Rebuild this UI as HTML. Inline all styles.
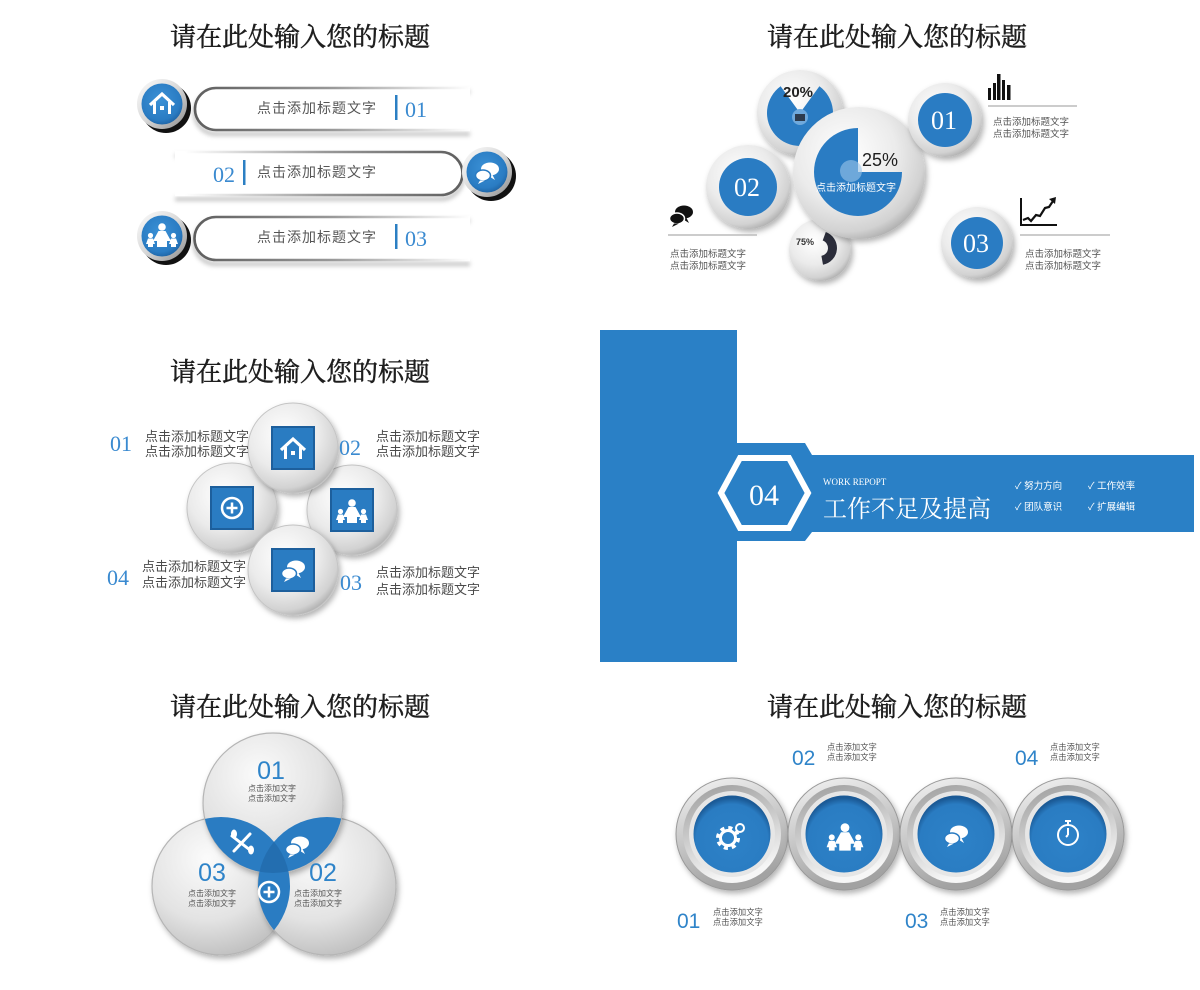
<!DOCTYPE html>
<html><head><meta charset="utf-8"><style>
html,body{margin:0;padding:0;background:#fff;}
svg{display:block;}
.t{font-family:"Liberation Serif","Noto Serif CJK SC",serif;font-size:26px;fill:#1e1e1e;stroke:#1e1e1e;stroke-width:0.5px;font-weight:normal;}
.s{font-family:"Liberation Sans","Noto Sans CJK SC",sans-serif;}
.sf{font-family:"Liberation Serif","Noto Serif CJK SC",serif;}
</style></head><body>
<svg width="1200" height="990" viewBox="0 0 1200 990" xmlns="http://www.w3.org/2000/svg">
<defs>
<radialGradient id="blueR" cx="0.45" cy="0.4" r="0.65">
 <stop offset="0" stop-color="#3b91d6"/><stop offset="0.75" stop-color="#2a7cc3"/><stop offset="1" stop-color="#1c5f9f"/>
</radialGradient>
<radialGradient id="blueI" cx="0.5" cy="0.58" r="0.55">
 <stop offset="0" stop-color="#2d82c8"/><stop offset="0.85" stop-color="#2a7cc2"/><stop offset="1" stop-color="#1b5a96"/>
</radialGradient>
<linearGradient id="silver" x1="0" y1="0" x2="1" y2="1">
 <stop offset="0" stop-color="#fdfdfd"/><stop offset="0.5" stop-color="#d8d8d8"/><stop offset="1" stop-color="#8c8c8c"/>
</linearGradient>
<radialGradient id="disc" cx="0.4" cy="0.35" r="0.7">
 <stop offset="0" stop-color="#ffffff"/><stop offset="0.55" stop-color="#ebebeb"/><stop offset="0.85" stop-color="#d2d2d2"/><stop offset="1" stop-color="#a8a8a8"/>
</radialGradient>
<radialGradient id="vdisc" cx="0.4" cy="0.3" r="0.75">
 <stop offset="0" stop-color="#fbfbfb"/><stop offset="0.6" stop-color="#e3e3e3"/><stop offset="1" stop-color="#bdbdbd"/>
</radialGradient>
<linearGradient id="ringA" x1="0" y1="0" x2="0.3" y2="1">
 <stop offset="0" stop-color="#f4f4f4"/><stop offset="1" stop-color="#a2a2a2"/>
</linearGradient>
<linearGradient id="ringB" x1="0" y1="0" x2="0.3" y2="1">
 <stop offset="0" stop-color="#9c9c9c"/><stop offset="1" stop-color="#f6f6f6"/>
</linearGradient>
<linearGradient id="fadeR" gradientUnits="userSpaceOnUse" x1="195" y1="0" x2="470" y2="0">
 <stop offset="0" stop-color="#5e5e5e"/><stop offset="0.5" stop-color="#999"/><stop offset="0.85" stop-color="#e2e2e2"/><stop offset="1" stop-color="#ffffff"/>
</linearGradient>
<linearGradient id="fadeL" gradientUnits="userSpaceOnUse" x1="463" y1="0" x2="185" y2="0">
 <stop offset="0" stop-color="#5e5e5e"/><stop offset="0.5" stop-color="#999"/><stop offset="0.85" stop-color="#e2e2e2"/><stop offset="1" stop-color="#ffffff"/>
</linearGradient>
<filter id="sh" x="-30%" y="-30%" width="160%" height="160%"><feDropShadow dx="2" dy="3" stdDeviation="3" flood-color="#000" flood-opacity="0.3"/></filter>
<filter id="bl" x="-10%" y="-100%" width="120%" height="300%"><feGaussianBlur stdDeviation="2.2"/></filter>
<clipPath id="cA"><circle cx="273" cy="803" r="70"/></clipPath>
<clipPath id="cB"><circle cx="327" cy="886" r="69"/></clipPath>
<clipPath id="cC"><circle cx="221" cy="886" r="69"/></clipPath>

<g id="house"><path d="M-12,1 L0,-10 L12,1" fill="none" stroke="#fff" stroke-width="3.2"/><path d="M-7.5,-2 V10 M7.5,-2 V10" stroke="#fff" stroke-width="3"/><rect x="-2" y="2" width="4" height="4" fill="#fff"/></g>
<g id="chat"><ellipse cx="3" cy="-3" rx="9" ry="6.5" fill="#fff"/><path d="M5,2 L8,8 L0,3z" fill="#fff"/><ellipse cx="-4" cy="3.5" rx="7.5" ry="5.5" fill="#fff" stroke="#2a7bc2" stroke-width="1.5"/><path d="M-7,8.5 L-9,12 L-2,8.5z" fill="#fff"/></g>
<g id="chatK"><ellipse cx="3" cy="-3" rx="9" ry="6.5" fill="#111"/><path d="M5,2 L8,8 L0,3z" fill="#111"/><ellipse cx="-4" cy="3.5" rx="7.5" ry="5.5" fill="#111" stroke="#fff" stroke-width="1.5"/><path d="M-7,8.5 L-9,12 L-2,8.5z" fill="#111"/></g>
<g id="family" fill="#fff"><circle cx="0" cy="-9" r="3.8"/><path d="M-3.5,-5 H3.5 L9,5 H5 V11 H-5 V5 H-9z"/><circle cx="-11.5" cy="-0.5" r="2.6"/><path d="M-14,2.5 H-9 L-7,8 H-9 V11 H-14 V8 H-16z"/><circle cx="11.5" cy="-0.5" r="2.6"/><path d="M9,2.5 H14 L16,8 H14 V11 H9 V8 H7z"/></g>
<g id="plusc" fill="none" stroke="#fff" stroke-width="2.5"><circle r="10"/><path d="M-5.5,0 H5.5 M0,-5.5 V5.5"/></g>
<g id="gear" fill="none" stroke="#fff"><circle r="10" stroke-width="4" stroke-dasharray="4 3.85"/><circle r="7.5" stroke-width="3"/><circle cx="12" cy="-10" r="4" stroke-width="2"/></g>
<g id="watch" fill="none" stroke="#fff" stroke-width="2"><circle cy="2" r="10"/><path d="M0,-8 V-11 M-3,-12 H3 M0,2 V-5 M0,2 L-2,4"/></g>
</defs>

<!-- TITLES -->
<text class="t" x="300" y="46" text-anchor="middle">请在此处输入您的标题</text>
<text class="t" x="897" y="46" text-anchor="middle">请在此处输入您的标题</text>
<text class="t" x="300" y="381" text-anchor="middle">请在此处输入您的标题</text>
<text class="t" x="300" y="716" text-anchor="middle">请在此处输入您的标题</text>
<text class="t" x="897" y="716" text-anchor="middle">请在此处输入您的标题</text>

<!-- TOP LEFT -->
<path d="M470,92 H216 A21,21 0 0 0 216,134 H470" fill="none" stroke="#aaa" stroke-width="4" filter="url(#bl)" opacity="0.7"/>
<path d="M470,88 H216 A21,21 0 0 0 216,130 H470" fill="#fff" stroke="url(#fadeR)" stroke-width="2.6"/>
<text class="s" x="257" y="113" font-size="14" fill="#555" letter-spacing="1">点击添加标题文字</text>
<rect x="395" y="95" width="2.5" height="25" fill="#2b7fc3"/>
<text class="sf" x="405" y="117" font-size="22" fill="#3a8ad0">01</text>
<circle cx="166" cy="108" r="25" fill="#111"/>
<circle cx="162" cy="104" r="25" fill="url(#silver)"/>
<circle cx="162" cy="104" r="20.5" fill="url(#blueR)"/>
<use href="#house" x="162" y="104"/>

<path d="M175,156 H441 A21.5,21.5 0 0 1 441,199 H175" fill="none" stroke="#aaa" stroke-width="4" filter="url(#bl)" opacity="0.7"/>
<path d="M175,152 H441 A21.5,21.5 0 0 1 441,195 H175" fill="#fff" stroke="url(#fadeL)" stroke-width="2.6"/>
<text class="sf" x="213" y="182" font-size="22" fill="#3a8ad0">02</text>
<rect x="243" y="160" width="2.5" height="25" fill="#2b7fc3"/>
<text class="s" x="257" y="177" font-size="14" fill="#555" letter-spacing="1">点击添加标题文字</text>
<circle cx="491" cy="176" r="25" fill="#111"/>
<circle cx="487" cy="172" r="25" fill="url(#silver)"/>
<circle cx="487" cy="172" r="20.5" fill="url(#blueR)"/>
<use href="#chat" x="487" y="172"/>

<path d="M470,221 H216 A21.5,21.5 0 0 0 216,264 H470" fill="none" stroke="#aaa" stroke-width="4" filter="url(#bl)" opacity="0.7"/>
<path d="M470,217 H216 A21.5,21.5 0 0 0 216,260 H470" fill="#fff" stroke="url(#fadeR)" stroke-width="2.6"/>
<text class="s" x="257" y="242" font-size="14" fill="#555" letter-spacing="1">点击添加标题文字</text>
<rect x="395" y="224" width="2.5" height="25" fill="#2b7fc3"/>
<text class="sf" x="405" y="246" font-size="22" fill="#3a8ad0">03</text>
<circle cx="166" cy="240" r="25" fill="#111"/>
<circle cx="162" cy="236" r="25" fill="url(#silver)"/>
<circle cx="162" cy="236" r="20.5" fill="url(#blueR)"/>
<use href="#family" x="162" y="236"/>

<!-- TOP RIGHT -->
<circle cx="800" cy="113" r="43" fill="url(#disc)" filter="url(#sh)"/>
<path d="M800,113 L819.4,86.3 A33,33 0 1 1 780.6,86.3 Z" fill="#2a7cc3"/>
<circle cx="800" cy="117" r="8" fill="#6fa9dc"/>
<rect x="795" y="114" width="10" height="7" fill="#2d3b4d"/>
<text class="s" x="798" y="97" font-size="15" font-weight="bold" fill="#222" text-anchor="middle">20%</text>
<circle cx="748" cy="187" r="42" fill="url(#disc)" filter="url(#sh)"/>
<circle cx="748" cy="187" r="29" fill="#2a7cc3"/>
<text class="sf" x="747" y="196" font-size="26" fill="#fff" text-anchor="middle">02</text>
<circle cx="820" cy="250" r="31" fill="url(#disc)" filter="url(#sh)"/>
<text class="s" x="805" y="245" font-size="9" font-weight="bold" fill="#333" text-anchor="middle">75%</text>
<path d="M825.8,232 A17,17 0 0 1 823,264.7 L821.4,255.9 A8,8 0 0 0 822.7,240.5 Z" fill="#2b2d3a"/>
<circle cx="859" cy="173" r="66" fill="url(#disc)" filter="url(#sh)"/>
<path d="M858,172 L902,172 A44,44 0 1 1 858,128 Z" fill="#2a7cc3"/>
<circle cx="851" cy="171" r="11" fill="#9cc6ea" opacity="0.6"/>
<text class="s" x="880" y="166" font-size="18" fill="#1e1e1e" text-anchor="middle">25%</text>
<text class="s" x="856" y="191" font-size="10" fill="#fff" text-anchor="middle">点击添加标题文字</text>
<circle cx="945" cy="120" r="37" fill="url(#disc)" filter="url(#sh)"/>
<circle cx="945" cy="120" r="27" fill="#2a7cc3"/>
<text class="sf" x="944" y="129" font-size="26" fill="#fff" text-anchor="middle">01</text>
<circle cx="977" cy="243" r="36" fill="url(#disc)" filter="url(#sh)"/>
<circle cx="977" cy="243" r="26" fill="#2a7cc3"/>
<text class="sf" x="976" y="252" font-size="26" fill="#fff" text-anchor="middle">03</text>
<g fill="#111">
<rect x="988" y="88" width="3" height="12"/><rect x="993" y="83" width="3" height="17"/><rect x="997" y="74" width="3.5" height="26"/><rect x="1002" y="80" width="3" height="20"/><rect x="1007" y="85" width="3.5" height="15"/>
</g>
<line x1="988" y1="106" x2="1077" y2="106" stroke="#bcbcbc" stroke-width="1.5"/>
<text class="s" x="993" y="125" font-size="9.5" fill="#555">点击添加标题文字</text>
<text class="s" x="993" y="137" font-size="9.5" fill="#555">点击添加标题文字</text>
<path d="M1021,198 V225 H1057" fill="none" stroke="#111" stroke-width="2"/>
<path d="M1023,220 L1028,218 L1031,221 L1036,215 L1040,216 L1045,208 L1049,207 L1053,201" fill="none" stroke="#111" stroke-width="2.2"/>
<path d="M1049,199 L1056,197 L1055,204 Z" fill="#111"/>
<line x1="1020" y1="235" x2="1110" y2="235" stroke="#bcbcbc" stroke-width="1.5"/>
<text class="s" x="1025" y="257" font-size="9.5" fill="#555">点击添加标题文字</text>
<text class="s" x="1025" y="269" font-size="9.5" fill="#555">点击添加标题文字</text>
<use href="#chatK" x="681" y="215"/>
<line x1="668" y1="235" x2="757" y2="235" stroke="#bcbcbc" stroke-width="1.5"/>
<text class="s" x="670" y="257" font-size="9.5" fill="#555">点击添加标题文字</text>
<text class="s" x="670" y="269" font-size="9.5" fill="#555">点击添加标题文字</text>

<!-- MIDDLE LEFT -->
<g>
<circle cx="232" cy="508" r="45" fill="url(#disc)" filter="url(#sh)" stroke="#c4c4c4" stroke-width="1"/>
<rect x="211" y="487" width="42" height="42" fill="#2a7cc2" stroke="#1d5f9c" stroke-width="2"/>
<use href="#plusc" x="232" y="508"/>
<circle cx="352" cy="510" r="45" fill="url(#disc)" filter="url(#sh)" stroke="#c4c4c4" stroke-width="1"/>
<rect x="331" y="489" width="42" height="42" fill="#2a7cc2" stroke="#1d5f9c" stroke-width="2"/>
<use href="#family" x="352" y="512"/>
<circle cx="293" cy="448" r="45" fill="url(#disc)" filter="url(#sh)" stroke="#c4c4c4" stroke-width="1"/>
<rect x="272" y="427" width="42" height="42" fill="#2a7cc2" stroke="#1d5f9c" stroke-width="2"/>
<use href="#house" x="293" y="449"/>
<circle cx="293" cy="570" r="45" fill="url(#disc)" filter="url(#sh)" stroke="#c4c4c4" stroke-width="1"/>
<rect x="272" y="549" width="42" height="42" fill="#2a7cc2" stroke="#1d5f9c" stroke-width="2"/>
<use href="#chat" x="293" y="570"/>
</g>
<text class="sf" x="110" y="451" font-size="22" fill="#3a8ad0">01</text>
<text class="s" x="145" y="441" font-size="13" fill="#4a4a4a">点击添加标题文字</text>
<text class="s" x="145" y="456" font-size="13" fill="#4a4a4a">点击添加标题文字</text>
<text class="sf" x="339" y="455" font-size="22" fill="#3a8ad0">02</text>
<text class="s" x="376" y="441" font-size="13" fill="#4a4a4a">点击添加标题文字</text>
<text class="s" x="376" y="456" font-size="13" fill="#4a4a4a">点击添加标题文字</text>
<text class="sf" x="107" y="585" font-size="22" fill="#3a8ad0">04</text>
<text class="s" x="142" y="571" font-size="13" fill="#4a4a4a">点击添加标题文字</text>
<text class="s" x="142" y="587" font-size="13" fill="#4a4a4a">点击添加标题文字</text>
<text class="sf" x="340" y="590" font-size="22" fill="#3a8ad0">03</text>
<text class="s" x="376" y="577" font-size="13" fill="#4a4a4a">点击添加标题文字</text>
<text class="s" x="376" y="594" font-size="13" fill="#4a4a4a">点击添加标题文字</text>

<!-- MIDDLE RIGHT -->
<rect x="600" y="330" width="137" height="332" fill="#2a80c6"/>
<path d="M736,443 H805 L812,455 H1194 V532 H812 L805,541 H736 Z" fill="#2a80c6"/>
<polygon points="721,493 740,458 789,458 808,493 789,528 740,528" fill="none" stroke="#fff" stroke-width="6"/>
<text class="sf" x="764" y="505" font-size="30" fill="#fff" text-anchor="middle">04</text>
<text class="sf" x="823" y="485" font-size="9" fill="#fff">WORK REPOPT</text>
<text class="sf" x="823" y="517" font-size="24" fill="#fff">工作不足及提高</text>
<g class="s" font-size="9.5" fill="#fff">
<text x="1015" y="489">✓ 努力方向</text>
<text x="1088" y="489">✓ 工作效率</text>
<text x="1015" y="510">✓ 团队意识</text>
<text x="1088" y="510">✓ 扩展编辑</text>
</g>

<!-- BOTTOM LEFT (Venn) -->
<circle cx="221" cy="886" r="69" fill="url(#vdisc)" stroke="#b5b5b5" stroke-width="1.2" filter="url(#sh)"/>
<circle cx="327" cy="886" r="69" fill="url(#vdisc)" stroke="#b5b5b5" stroke-width="1.2" filter="url(#sh)"/>
<circle cx="273" cy="803" r="70" fill="url(#vdisc)" stroke="#b5b5b5" stroke-width="1.2" filter="url(#sh)"/>
<g clip-path="url(#cA)"><circle cx="327" cy="886" r="69" fill="#2a7cc2"/><circle cx="221" cy="886" r="69" fill="#2a7cc2"/></g>
<g clip-path="url(#cB)"><circle cx="221" cy="886" r="69" fill="#2a7cc2"/></g>
<g clip-path="url(#cA)"><g clip-path="url(#cB)"><circle cx="221" cy="886" r="69" fill="#236eb0"/></g></g>
<use href="#plusc" x="269" y="892"/>
<use href="#chat" x="297" y="846"/>
<g stroke="#fff" stroke-width="3" fill="#fff" stroke-linecap="round">
<path d="M232,836 L250,850"/><path d="M250,834 L234,851"/>
<ellipse cx="234" cy="834" rx="3" ry="4.5" stroke="none"/><ellipse cx="251" cy="850" rx="3" ry="4.5" stroke="none"/>
</g>
<g class="s" fill="#2f84c9" font-size="25" text-anchor="middle">
<text x="271" y="779">01</text>
<text x="212" y="881">03</text>
<text x="323" y="881">02</text>
</g>
<g class="s" fill="#555" font-size="8" text-anchor="middle">
<text x="272" y="791">点击添加文字</text><text x="272" y="801">点击添加文字</text>
<text x="212" y="896">点击添加文字</text><text x="212" y="906">点击添加文字</text>
<text x="318" y="896">点击添加文字</text><text x="318" y="906">点击添加文字</text>
</g>

<!-- BOTTOM RIGHT -->
<g>
<circle cx="732" cy="834" r="56" fill="url(#ringA)" stroke="#9a9a9a" stroke-width="1" filter="url(#sh)"/>
<circle cx="732" cy="834" r="49" fill="url(#ringB)"/>
<circle cx="732" cy="834" r="43" fill="#e6e6e6"/>
<circle cx="732" cy="834" r="38.5" fill="url(#blueI)"/>
<use href="#gear" x="728" y="838"/>

<circle cx="844" cy="834" r="56" fill="url(#ringA)" stroke="#9a9a9a" stroke-width="1" filter="url(#sh)"/>
<circle cx="844" cy="834" r="49" fill="url(#ringB)"/>
<circle cx="844" cy="834" r="43" fill="#e6e6e6"/>
<circle cx="844" cy="834" r="38.5" fill="url(#blueI)"/>
<g transform="translate(845,838) scale(1.15)"><use href="#family"/></g>

<circle cx="956" cy="834" r="56" fill="url(#ringA)" stroke="#9a9a9a" stroke-width="1" filter="url(#sh)"/>
<circle cx="956" cy="834" r="49" fill="url(#ringB)"/>
<circle cx="956" cy="834" r="43" fill="#e6e6e6"/>
<circle cx="956" cy="834" r="38.5" fill="url(#blueI)"/>
<use href="#chat" x="956" y="835"/>

<circle cx="1068" cy="834" r="56" fill="url(#ringA)" stroke="#9a9a9a" stroke-width="1" filter="url(#sh)"/>
<circle cx="1068" cy="834" r="49" fill="url(#ringB)"/>
<circle cx="1068" cy="834" r="43" fill="#e6e6e6"/>
<circle cx="1068" cy="834" r="38.5" fill="url(#blueI)"/>
<use href="#watch" x="1068" y="833"/>
</g>
<g class="s" fill="#2f84c9" font-size="21">
<text x="792" y="765">02</text>
<text x="1015" y="765">04</text>
<text x="677" y="928">01</text>
<text x="905" y="928">03</text>
</g>
<g class="s" fill="#555" font-size="8.3">
<text x="827" y="750">点击添加文字</text><text x="827" y="760">点击添加文字</text>
<text x="1050" y="750">点击添加文字</text><text x="1050" y="760">点击添加文字</text>
<text x="713" y="915">点击添加文字</text><text x="713" y="925">点击添加文字</text>
<text x="940" y="915">点击添加文字</text><text x="940" y="925">点击添加文字</text>
</g>
</svg>
</body></html>
